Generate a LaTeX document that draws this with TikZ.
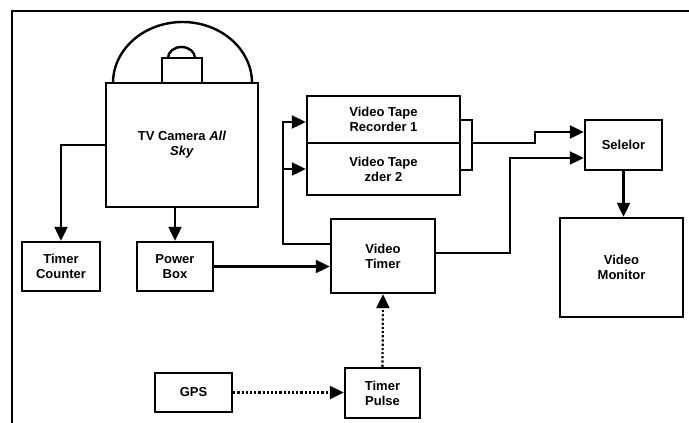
\documentclass[tikz,border=0pt]{standalone}
\usepackage{fontspec}
\setmainfont{Liberation Sans}
\usetikzlibrary{arrows.meta, positioning}

\begin{document}
\begin{tikzpicture}[
    x=1pt, y=-1pt,                    % pixel-like grid, y downwards
    box/.style={rectangle, draw, line width=2.4pt, align=center,
                inner sep=1pt,
                font=\fontsize{13}{15}\selectfont\bfseries},
    arrow/.style={-{Triangle[length=14pt, width=13pt]}, line width=2.2pt},
    dotarrow/.style={arrow, dotted, line width=2.2pt}
]
\useasboundingbox (0,0) rectangle (689,423);

% frame
\draw [line width=2.2pt] (689,11) -- (12,11) -- (12,423);

% camera with dome
\node (camera)   [box, minimum width=152pt, minimum height=124pt] at (182,145)
                 {TV Camera \textit{All}\\\textit{Sky}};
\draw [line width=2.4pt] (113,83) arc[start angle=180, end angle=0,
                 x radius=69.5pt, y radius=61pt];
\draw [line width=2.4pt] (162,83) rectangle (202,58);
\draw [line width=2.4pt] (168,58) arc[start angle=180, end angle=0,
                 x radius=13.5pt, y radius=11pt];

\node (tcount)   [box, minimum width=78pt, minimum height=49pt] at (61,266.5)  {Timer\\Counter};
\node (pbox)     [box, minimum width=76pt, minimum height=49pt] at (175,266.5) {Power\\Box};
\node (vtr1)     [box, minimum width=153pt, minimum height=47pt] at (383.5,119.5) {Video Tape\\Recorder 1};
\node (vtr2)     [box, minimum width=153pt, minimum height=52pt] at (383.5,169)   {Video Tape\\zder 2};
\node (vtimer)   [box, minimum width=104pt, minimum height=74pt] at (383,256)   {Video\\Timer};
\node (selector) [box, minimum width=77pt, minimum height=50pt]  at (623.5,145) {Selelor};
\node (monitor)  [box, minimum width=123pt, minimum height=99pt] at (621.5,267.5) {Video\\Monitor};
\node (gps)      [box, minimum width=77pt, minimum height=39pt]  at (193.5,392.5) {GPS};
\node (tpulse)   [box, minimum width=75pt, minimum height=50pt]  at (382.5,393)  {Timer\\Pulse};

\coordinate (bus)     at (283,122);
\coordinate (bracket) at (472,143);

\draw [arrow] (camera.west) -| (tcount.north);
\draw [arrow] (pbox.north |- camera.south) -- (pbox.north);
\draw [arrow] (pbox.east) -- (pbox.east -| vtimer.west);
\draw [arrow] ([yshift=12pt]vtimer.west) -| (bus) -- (bus -| vtr1.west);
\draw [arrow] (bus |- vtr2.west) -- (vtr2.west);
\draw [line width=2.2pt] (vtr1.east |- 0,120) -| (472,170) -- (vtr2.east |- 0,170);
\draw [arrow] (bracket) -| (535,132) -- ([yshift=13pt]selector.west);
\draw [arrow] ([yshift=3pt]vtimer.east) -| (510,158) -- ([yshift=-13pt]selector.west);
\draw [arrow] (selector.south) -- (selector.south |- monitor.north);
\draw [dotarrow] (gps.east) -- (gps.east -| tpulse.west);
\draw [dotarrow] (tpulse.north) -- (vtimer.south);
\end{tikzpicture}
\end{document}
